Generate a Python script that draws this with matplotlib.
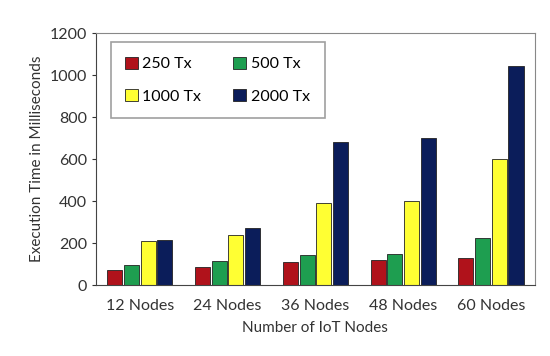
import numpy as np
import matplotlib
matplotlib.use("Agg")
import matplotlib.pyplot as plt

plt.rcParams['font.family'] = ['Lato', 'DejaVu Sans']

groups = ['12 Nodes', '24 Nodes', '36 Nodes', '48 Nodes', '60 Nodes']
series = ['250 Tx', '500 Tx', '1000 Tx', '2000 Tx']
tx250 = [70, 88, 110, 122, 128]
tx500 = [95, 115, 145, 148, 225]
tx1000 = [210, 238, 390, 402, 600]
tx2000 = [215, 270, 680, 700, 1045]
colors = ['#B0121B', '#1E9E50', '#FFFF33', '#0B1D5A']

fig = plt.figure(figsize=(5.5, 3.56), dpi=100)
ax = fig.add_axes([0.1745, 0.199, 0.798, 0.708])

x = np.arange(len(groups))
w = 0.19
bars = []
for i, (vals, name) in enumerate(zip([tx250, tx500, tx1000, tx2000], series)):
    b = ax.bar(x + (i - 1.5) * w, vals, w * 0.9, color=colors[i], edgecolor='#222222',
               linewidth=0.6, label=name)
    bars.append(b)

ax.set_xlim(-0.5, 4.5)
ax.set_ylim(0, 1200)
ax.set_yticks(range(0, 1201, 200))
ax.set_xticks(x)
ax.set_xticklabels(groups, fontsize=11.5, color='#333333')
ax.tick_params(axis='y', labelsize=11.5, colors='#333333', length=3)
ax.tick_params(axis='x', length=0, pad=10)
ax.set_ylabel('Execution Time in Milliseconds', fontsize=11, color='#333333')
ax.set_xlabel('Number of IoT Nodes', fontsize=11, color='#333333', labelpad=6)

for s in ['top', 'right']:
    ax.spines[s].set_color('#888888')
for s in ['left', 'bottom']:
    ax.spines[s].set_color('#444444')

# row order: 250, 500 / 1000, 2000
order = [0, 2, 1, 3]
leg = ax.legend([bars[k] for k in order], [series[k] for k in order], ncol=2,
                loc='upper left', bbox_to_anchor=(0.015, 0.995), fontsize=11.5,
                frameon=True, fancybox=False, handlelength=0.8, handleheight=0.8,
                columnspacing=2.0, labelspacing=1.1, borderpad=0.9, handletextpad=0.3)
leg.get_frame().set_edgecolor('#888888')
leg.get_frame().set_linewidth(1.2)

fig.savefig('out.png', dpi=100)
